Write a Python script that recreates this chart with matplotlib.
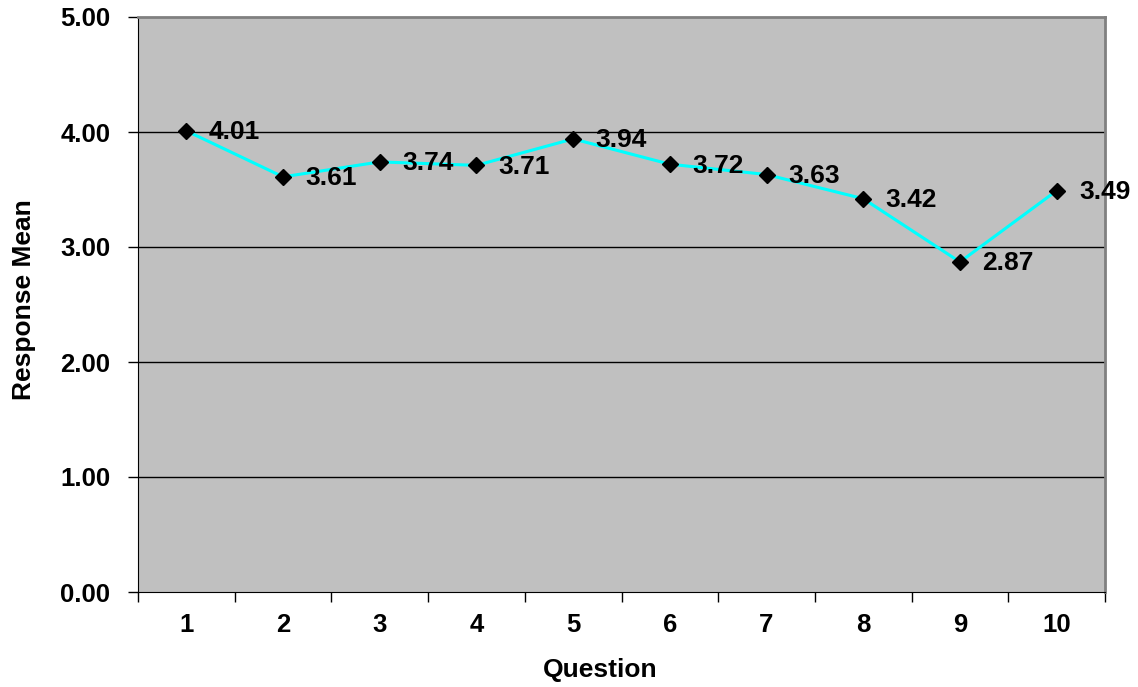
import matplotlib.pyplot as plt
from matplotlib.ticker import FixedLocator, NullFormatter, FormatStrFormatter

questions = ['1', '2', '3', '4', '5', '6', '7', '8', '9', '10']
means = [4.01, 3.61, 3.74, 3.71, 3.94, 3.72, 3.63, 3.42, 2.87, 3.49]
yticks = [0, 1, 2, 3, 4, 5]

plt.rcParams['font.family'] = ['Liberation Sans', 'DejaVu Sans']
plt.rcParams['font.weight'] = 'bold'

fig = plt.figure(figsize=(11.38, 6.87), dpi=100)
W, H = 1138, 687
ax = fig.add_axes([138 / W, 1 - 592 / H, (1105 - 138) / W, (592 - 17) / H])
ax.set_facecolor('#c0c0c0')

xs = list(range(1, len(questions) + 1))
ax.plot(xs, means, color='#00ffff', linewidth=2.2, marker='D', markersize=8.5,
        markerfacecolor='black', markeredgecolor='black', zorder=3)

for x, v in zip(xs, means):
    ax.annotate('%.2f' % v, (x, v), xytext=(16, -1), textcoords='offset points',
                ha='left', va='center', fontsize=19, fontweight='bold', zorder=4)

ax.set_xlim(0.5, len(questions) + 0.5)
ax.set_ylim(0, 5)

# category ticks between points, labels at the points
ax.xaxis.set_major_locator(FixedLocator([i + 0.5 for i in range(0, len(questions) + 1)]))
ax.xaxis.set_major_formatter(NullFormatter())
ax.xaxis.set_minor_locator(FixedLocator(xs))
ax.set_xticklabels(questions, minor=True)
ax.tick_params(axis='x', which='major', direction='out', length=7, width=1, color='black')
ax.tick_params(axis='x', which='minor', length=0, pad=15, labelsize=18.5)

ax.set_yticks(yticks)
ax.yaxis.set_major_formatter(FormatStrFormatter('%.2f'))
ax.tick_params(axis='y', direction='out', length=7, width=1, color='black', pad=13, labelsize=18.5)

for y in yticks[1:-1]:
    ax.axhline(y, color='black', linewidth=1, zorder=1)

ax.spines['left'].set_color('black')
ax.spines['bottom'].set_color('black')
ax.spines['top'].set_color('#808080')
ax.spines['right'].set_color('#808080')
ax.spines['top'].set_linewidth(2)
ax.spines['right'].set_linewidth(2)

fig.text(600 / W, 1 - 670 / H, 'Question', ha='center', va='center', fontsize=19, fontweight='bold')
fig.text(24 / W, 1 - 300 / H, 'Response Mean', ha='center', va='center', rotation=90,
         fontsize=19, fontweight='bold')

fig.savefig('out.png', dpi=100)
